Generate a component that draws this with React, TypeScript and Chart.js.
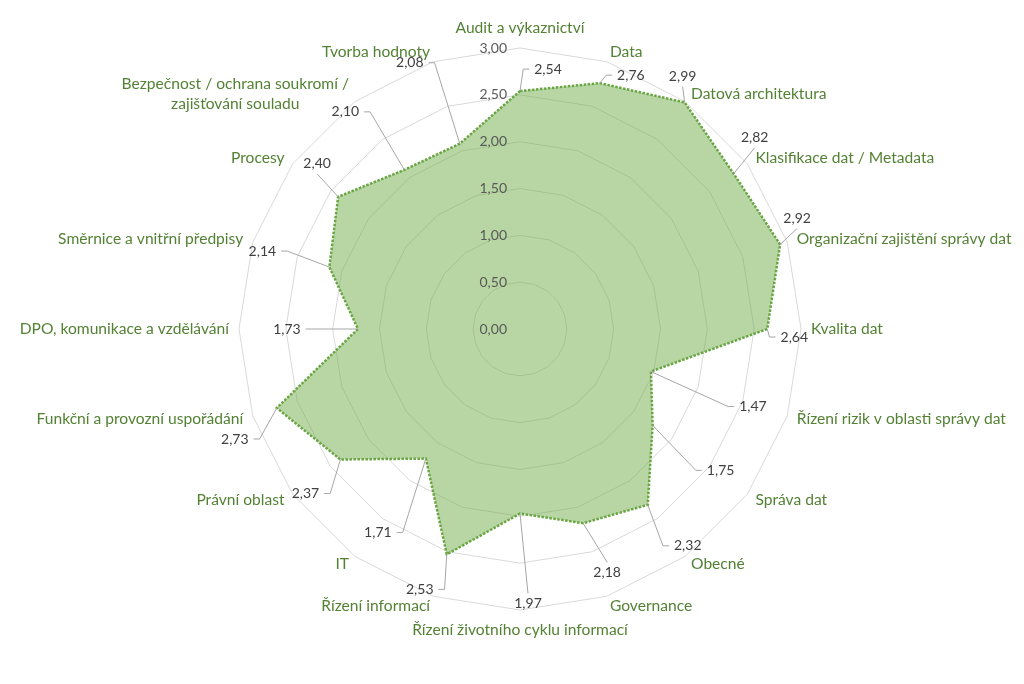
import React, { useEffect, useRef } from 'react';
import { Chart, registerables } from 'chart.js';

Chart.register(...registerables);

const FONT = 'Lato, "Open Sans", sans-serif';

const categories: (string | string[])[] = [
  'Audit a výkaznictví',
  'Data',
  'Datová architektura',
  'Klasifikace dat / Metadata',
  'Organizační zajištění správy dat',
  'Kvalita dat',
  'Řízení rizik v oblasti správy dat',
  'Správa dat',
  'Obecné',
  'Governance',
  'Řízení životního cyklu informací',
  'Řízení informací',
  'IT',
  'Právní oblast',
  'Funkční a provozní uspořádání',
  'DPO, komunikace a vzdělávání',
  'Směrnice a vnitřní předpisy',
  'Procesy',
  ['Bezpečnost / ochrana soukromí /', 'zajišťování souladu'],
  'Tvorba hodnoty',
];

const scores = [
  2.54, 2.76, 2.99, 2.82, 2.92, 2.64, 1.47, 1.75, 2.32, 2.18,
  1.97, 2.53, 1.71, 2.37, 2.73, 1.73, 2.14, 2.4, 2.1, 2.08,
];

const tickValues = [0, 0.5, 1, 1.5, 2, 2.5, 3];
const tickLabels = ['0,00', '0,50', '1,00', '1,50', '2,00', '2,50', '3,00'];

// placement of each value label relative to its point (px) and the side where its leader line attaches
const labelOffsets: [number, number][] = [
  [28, -22], [31, -8], [-2, -26], [21, -36], [17, -26],
  [27, 8], [102, 35], [68, 45], [40, 41], [24, 49],
  [8, 90], [-27, 35], [-48, 74], [-35, 34], [-42, 31],
  [-71, 0], [-67, -16], [-21, -33], [-59, -58], [-50, -81],
];
const leaderSides = [
  'l', 'l', 'b', 'b', 'b',
  'l', 'l', 'l', 'l', 't',
  't', 'r', 'r', 'r', 'r',
  'r', 'r', 'b', 'r', 'r',
];

const fmt = (v: number) => v.toFixed(2).replace('.', ',');

const overlayPlugin = {
  id: 'overlay',
  afterDatasetsDraw(chart: any) {
    const scale = chart.scales.r;
    const ctx: CanvasRenderingContext2D = chart.ctx;
    const R = scale.drawingArea;
    const cx = scale.xCenter;
    const cy = scale.yCenter;
    const n = categories.length;
    ctx.save();

    // tick labels
    ctx.font = `14px ${FONT}`;
    ctx.fillStyle = '#595959';
    ctx.textAlign = 'right';
    ctx.textBaseline = 'middle';
    tickValues.forEach((v, k) => {
      const y = cy - scale.getDistanceFromCenterForValue(v);
      ctx.fillText(tickLabels[k], cx - 13, y);
    });

    // category labels
    ctx.font = `15.6px ${FONT}`;
    ctx.fillStyle = '#548235';
    const lineH = 20;
    categories.forEach((lab, i) => {
      const pos = scale.getPointPosition(i, R + 10);
      const lines = Array.isArray(lab) ? lab : [lab];
      const a = (i * 2 * Math.PI) / n;
      const s = Math.sin(a);
      const c = Math.cos(a);
      const blockH = lines.length * lineH;
      const widths = lines.map((l) => ctx.measureText(l).width);
      const maxW = Math.max(...widths);
      let xMid: number;
      let yMid = pos.y;
      if (Math.abs(s) < 0.01) {
        xMid = pos.x;
        yMid = pos.y - Math.sign(c) * blockH / 2;
      } else if (s > 0) {
        xMid = pos.x + maxW / 2;
      } else {
        xMid = pos.x - maxW / 2;
      }
      ctx.textAlign = 'center';
      lines.forEach((l, k) => {
        ctx.fillText(l, xMid, yMid + (k - (lines.length - 1) / 2) * lineH);
      });
    });

    // value labels with leader lines
    ctx.font = `14px ${FONT}`;
    const gap = 5;
    const shoulder = 6;
    const h = 14;
    scores.forEach((v, i) => {
      const p = scale.getPointPosition(i, scale.getDistanceFromCenterForValue(v));
      const lx = p.x + labelOffsets[i][0];
      const ly = p.y + labelOffsets[i][1];
      const text = fmt(v);
      const w = ctx.measureText(text).width;
      ctx.strokeStyle = '#a6a6a6';
      ctx.lineWidth = 1;
      ctx.beginPath();
      ctx.moveTo(p.x, p.y);
      const side = leaderSides[i];
      if (side === 'l') {
        const ex = lx - w / 2 - gap;
        ctx.lineTo(ex - shoulder, ly);
        ctx.lineTo(ex, ly);
      } else if (side === 'r') {
        const ex = lx + w / 2 + gap;
        ctx.lineTo(ex + shoulder, ly);
        ctx.lineTo(ex, ly);
      } else if (side === 't') {
        ctx.lineTo(lx, ly - h / 2 - gap + 2);
      } else {
        ctx.lineTo(lx, ly + h / 2 + gap - 2);
      }
      ctx.stroke();
      ctx.fillStyle = '#404040';
      ctx.textAlign = 'center';
      ctx.textBaseline = 'middle';
      ctx.fillText(text, lx, ly);
    });

    ctx.restore();
  },
};

export default function App() {
  const ref = useRef<HTMLCanvasElement | null>(null);

  useEffect(() => {
    if (!ref.current) return;
    const chart = new Chart(ref.current, {
      type: 'radar',
      data: {
        labels: categories as any,
        datasets: [
          {
            data: scores,
            fill: 'origin',
            backgroundColor: 'rgba(112,173,71,0.5)',
            borderColor: '#6aa544',
            borderWidth: 2.5,
            borderDash: [2.5, 1.5],
            pointRadius: 0,
            pointHoverRadius: 0,
            tension: 0,
          },
        ],
      },
      options: {
        responsive: false,
        animation: false,
        events: [],
        plugins: {
          legend: { display: false },
          tooltip: { enabled: false },
        },
        scales: {
          r: {
            min: 0,
            max: 3,
            ticks: { stepSize: 0.5, display: false },
            grid: { color: '#d9d9d9', lineWidth: 1, circular: false },
            angleLines: { display: false },
            pointLabels: { display: false },
            afterFit: (scale: any) => {
              scale.xCenter = Math.round(scale.width * 0.508);
              scale.yCenter = Math.round(scale.height * 0.481);
              scale.drawingArea = 281;
            },
          } as any,
        },
      },
      plugins: [overlayPlugin],
    });
    return () => chart.destroy();
  }, []);

  return (
    <div style={{ position: 'absolute', left: 0, top: 0, width: 1024, height: 684, background: '#fff' }}>
      <canvas ref={ref} width={1024} height={684} style={{ width: 1024, height: 684 }} />
    </div>
  );
}
